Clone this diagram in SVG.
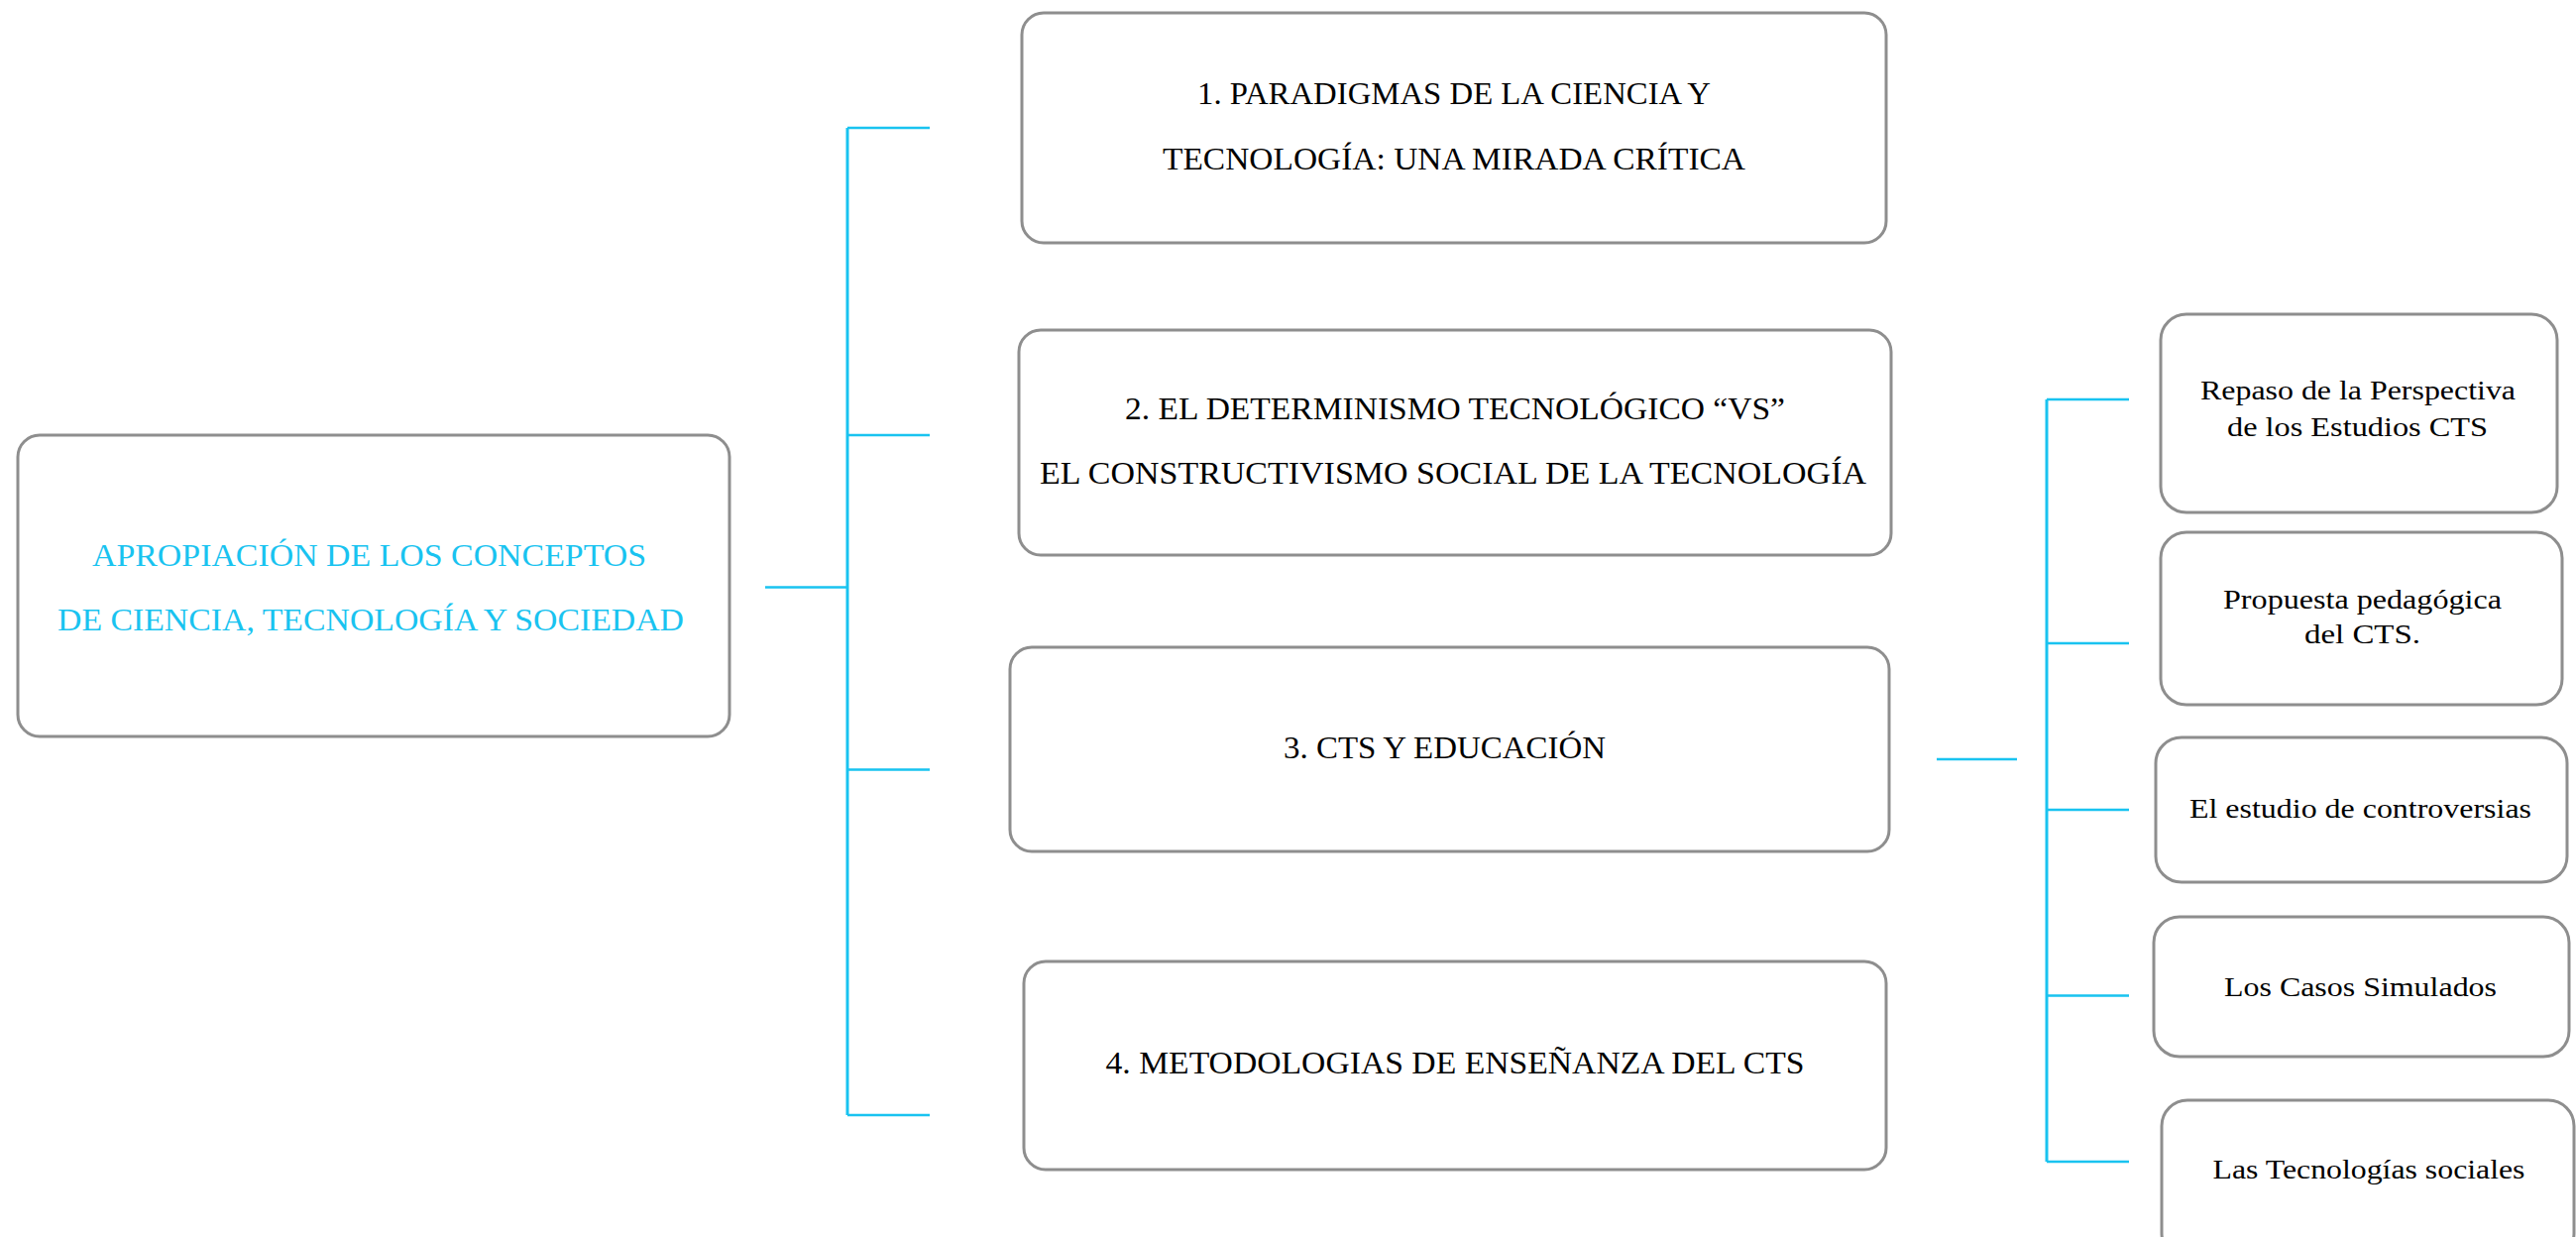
<svg xmlns="http://www.w3.org/2000/svg" width="2599" height="1248" viewBox="0 0 2599 1248">
<style>
.box{fill:#ffffff;stroke:#8e8e8e;stroke-width:3}
.t{font-family:"Liberation Serif","Times New Roman",serif;text-anchor:middle;fill:#000000}
.cap{font-size:32px}
.low{font-size:28px}
.cyan{fill:#19c3f0}
.con{stroke:#19c3f0;fill:none;stroke-width:2.5}
.spine{stroke:#19c3f0;fill:none;stroke-width:3}
</style>
<rect width="2599" height="1248" fill="#ffffff"/>
<g id="connectors">
<path class="con" d="M772,592.5 H855"/>
<path class="spine" d="M855,129 V1125"/>
<path class="con" d="M855,129 H938 M855,439 H938 M855,776.5 H938 M855,1125 H938"/>
<path class="con" d="M1954,766 H2035"/>
<path class="spine" d="M2065,403 V1172"/>
<path class="con" d="M2065,403 H2148 M2065,649 H2148 M2065,817 H2148 M2065,1004.5 H2148 M2065,1172 H2148"/>
</g>
<g id="main">
<rect class="box" x="18" y="439" width="718" height="304" rx="22"/>
<text class="t cap cyan" x="372.5" y="571" textLength="559" lengthAdjust="spacingAndGlyphs">APROPIACIÓN DE LOS CONCEPTOS</text>
<text class="t cap cyan" x="374" y="636" textLength="632" lengthAdjust="spacingAndGlyphs">DE CIENCIA, TECNOLOGÍA Y SOCIEDAD</text>
</g>
<g id="n1">
<rect class="box" x="1031" y="13" width="872" height="232" rx="22"/>
<text class="t cap" x="1467" y="105" textLength="518" lengthAdjust="spacingAndGlyphs">1. PARADIGMAS DE LA CIENCIA Y</text>
<text class="t cap" x="1467" y="171" textLength="588" lengthAdjust="spacingAndGlyphs">TECNOLOGÍA: UNA MIRADA CRÍTICA</text>
</g>
<g id="n2">
<rect class="box" x="1028" y="333" width="880" height="227" rx="22"/>
<text class="t cap" x="1468" y="423" textLength="666" lengthAdjust="spacingAndGlyphs">2. EL DETERMINISMO TECNOLÓGICO “VS”</text>
<text class="t cap" x="1466" y="488" textLength="834" lengthAdjust="spacingAndGlyphs">EL CONSTRUCTIVISMO SOCIAL DE LA TECNOLOGÍA</text>
</g>
<g id="n3">
<rect class="box" x="1019" y="653" width="887" height="206" rx="22"/>
<text class="t cap" x="1457.5" y="765" textLength="325" lengthAdjust="spacingAndGlyphs">3. CTS Y EDUCACIÓN</text>
</g>
<g id="n4">
<rect class="box" x="1033" y="970" width="870" height="210" rx="22"/>
<text class="t cap" x="1468" y="1083" textLength="705" lengthAdjust="spacingAndGlyphs">4. METODOLOGIAS DE ENSEÑANZA DEL CTS</text>
</g>
<g id="s1">
<rect class="box" x="2180" y="317" width="400" height="200" rx="26"/>
<text class="t low" x="2379" y="403" textLength="318" lengthAdjust="spacingAndGlyphs">Repaso de la Perspectiva</text>
<text class="t low" x="2378.5" y="440" textLength="263" lengthAdjust="spacingAndGlyphs">de los Estudios CTS</text>
</g>
<g id="s2">
<rect class="box" x="2180" y="537" width="405" height="174" rx="26"/>
<text class="t low" x="2383.5" y="614" textLength="281" lengthAdjust="spacingAndGlyphs">Propuesta pedagógica</text>
<text class="t low" x="2383.5" y="649" textLength="117" lengthAdjust="spacingAndGlyphs">del CTS.</text>
</g>
<g id="s3">
<rect class="box" x="2175" y="744" width="415" height="146" rx="26"/>
<text class="t low" x="2381.5" y="825" textLength="345" lengthAdjust="spacingAndGlyphs">El estudio de controversias</text>
</g>
<g id="s4">
<rect class="box" x="2173" y="925" width="419" height="141" rx="26"/>
<text class="t low" x="2381.5" y="1005" textLength="275" lengthAdjust="spacingAndGlyphs">Los Casos Simulados</text>
</g>
<g id="s5">
<rect class="box" x="2181" y="1110" width="416" height="160" rx="26"/>
<text class="t low" x="2390" y="1189" textLength="315" lengthAdjust="spacingAndGlyphs">Las Tecnologías sociales</text>
</g>
</svg>
